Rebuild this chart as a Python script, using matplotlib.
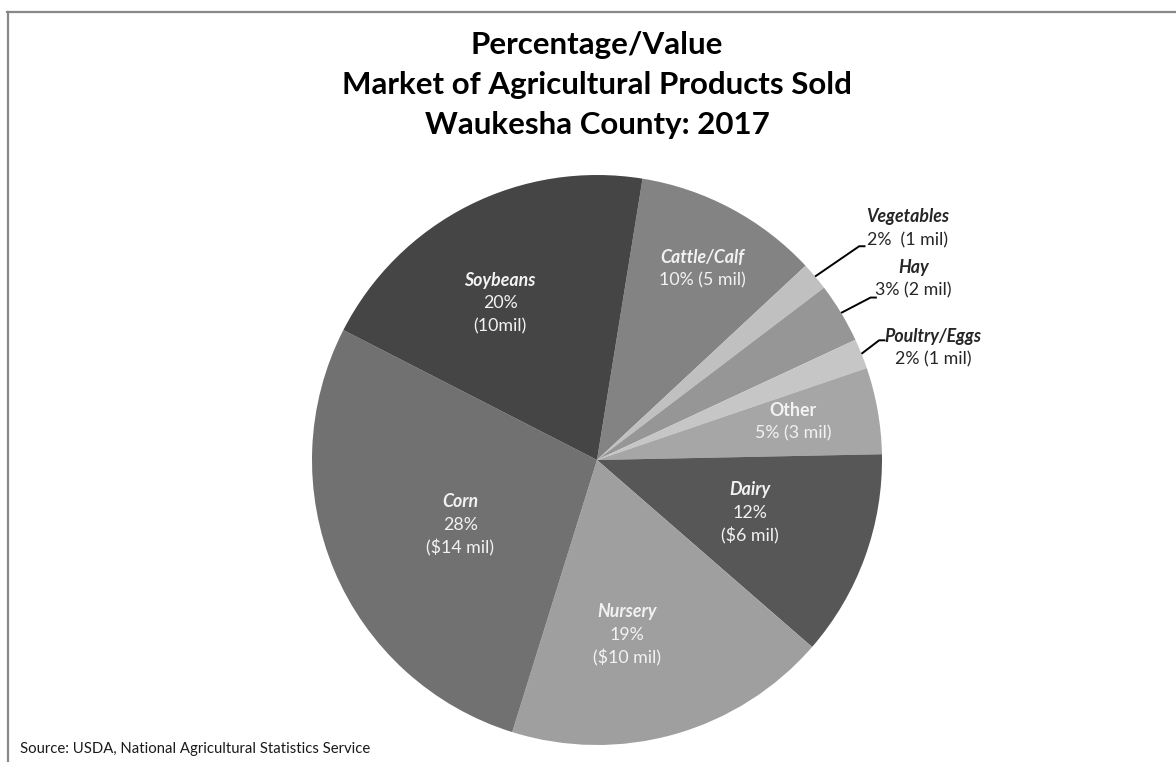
import matplotlib
matplotlib.use("Agg")
import matplotlib.pyplot as plt
from matplotlib.lines import Line2D
import numpy as np

plt.rcParams['font.family'] = ['Lato', 'DejaVu Sans']

# clockwise from just right of 12 o'clock
categories = ["Cattle/Calf", "Vegetables", "Hay", "Poultry/Eggs", "Other",
              "Dairy", "Nursery", "Corn", "Soybeans"]
shares = [10.5, 1.6, 3.4, 1.7, 4.9, 11.7, 18.4, 27.7, 20.0]
value_text = ["10% (5 mil)", "2%  (1 mil)", "3% (2 mil)", "2% (1 mil)", "5% (3 mil)",
              "12%\n($6 mil)", "19%\n($10 mil)", "28%\n($14 mil)", "20%\n(10mil)"]
title_lines = ["Percentage/Value", "Market of Agricultural Products Sold",
               "Waukesha County: 2017"]
source = "Source: USDA, National Agricultural Statistics Service"

colors = ["#838383", "#c0c0c0", "#969696", "#c6c6c6", "#a6a6a6",
          "#575757", "#9f9f9f", "#717171", "#454545"]
outside = [False, True, True, True, False, False, False, False, False]
# name-line anchors, in pie radius units
anchors = [(0.37, 0.71), (1.09, 0.853), (1.11, 0.677), (1.18, 0.435), (0.688, 0.175),
           (0.537, -0.105), (0.105, -0.533), (-0.48, -0.147), (-0.34, 0.63)]
knees = {1: (0.92, 0.75), 2: (0.96, 0.57), 3: (0.99, 0.42)}

W, H = 1176, 762
fig = plt.figure(figsize=(W / 100, H / 100), dpi=100)
cx, cy, r = 597, 460, 285
ax = fig.add_axes([(cx - r) / W, (H - cy - r) / H, 2 * r / W, 2 * r / H])

wedges, _ = ax.pie(shares, colors=colors, startangle=80.8, counterclock=False,
                   radius=1.0, wedgeprops=dict(linewidth=0), frame=False)
ax.set_xlim(-1, 1)
ax.set_ylim(-1, 1)
ax.set_aspect('equal')
ax.axis('off')

line_px = 23 * 0.72
for i, (name, vals) in enumerate(zip(categories, value_text)):
    col = "#262626" if outside[i] else "#f2f2f2"
    style = 'normal' if name == "Other" else 'italic'
    x, y = anchors[i]
    ax.text(x, y, name, ha='center', va='center', fontsize=12.8, fontweight='bold',
            fontstyle=style, color=col, clip_on=False)
    for j, line in enumerate(vals.split("\n")):
        ax.annotate(line, xy=(x, y), xytext=(0, -line_px * (j + 1)),
                    textcoords='offset points', ha='center', va='center',
                    fontsize=12.8, color=col, annotation_clip=False)
    if outside[i]:
        w = wedges[i]
        mid = np.deg2rad((w.theta1 + w.theta2) / 2)
        sx, sy = np.cos(mid), np.sin(mid)
        kx, ky = knees[i]
        ax.plot([sx, kx, kx + 0.022], [sy, ky, ky], color="black", lw=1.4,
                clip_on=False, solid_capstyle='butt')

for k, t in enumerate(title_lines):
    fig.text(cx / W, 1 - (45 + 40 * k) / H, t, ha='center', va='center',
             fontsize=22.5, fontweight='bold', color="black")

fig.text(20 / W, 1 - 749 / H, source, ha='left', va='center', fontsize=10.7,
         color="#1a1a1a")

fig.add_artist(Line2D([7 / W, 1], [1 - 11.5 / H, 1 - 11.5 / H], color="#888888",
                      lw=1.6, transform=fig.transFigure))
fig.add_artist(Line2D([8 / W, 8 / W], [0, 1 - 11.5 / H], color="#888888",
                      lw=1.6, transform=fig.transFigure))

fig.savefig("out.png", dpi=100, facecolor="white")
